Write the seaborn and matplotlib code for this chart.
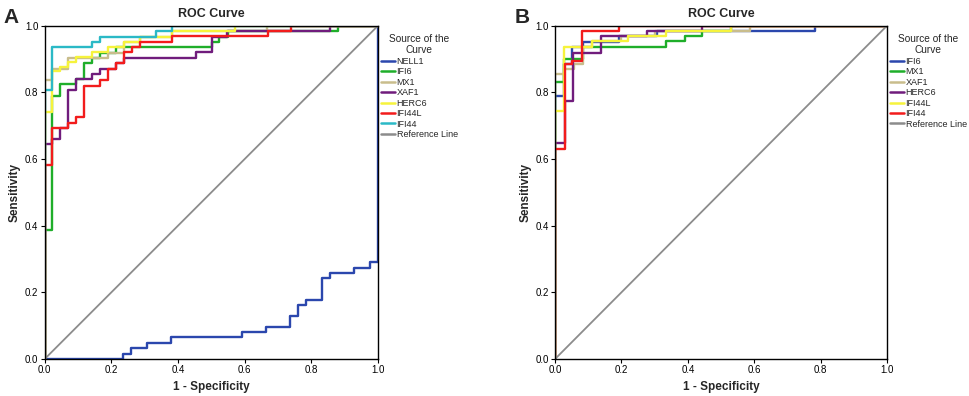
import numpy as np
import pandas as pd
import matplotlib
matplotlib.use("Agg")
import matplotlib.pyplot as plt
import seaborn as sns

sns.set_style("white")
plt.rcParams['font.family'] = ['Liberation Sans', 'DejaVu Sans']

# ROC step points: (1 - specificity where the step happens, new sensitivity)
# panel A
a_nell1_fpr = [0, 0.236, 0.26, 0.307, 0.38, 0.593, 0.665, 0.737, 0.761, 0.785, 0.833, 0.857, 0.928, 0.976, 1.0]
a_nell1_tpr = [0, 0.016, 0.032, 0.048, 0.065, 0.081, 0.097, 0.129, 0.161, 0.177, 0.242, 0.258, 0.274, 0.29, 1.0]
a_ifi6_fpr = [0, 0, 0.023, 0.046, 0.094, 0.118, 0.143, 0.167, 0.214, 0.501, 0.523, 0.549, 0.88, 1.0]
a_ifi6_tpr = [0, 0.387, 0.79, 0.824, 0.84, 0.888, 0.903, 0.919, 0.935, 0.951, 0.967, 0.984, 1.0, 1.0]
a_mx1_fpr = [0, 0, 0.023, 0.07, 0.19, 0.238, 0.286, 0.381, 0.666, 1.0]
a_mx1_tpr = [0, 0.838, 0.871, 0.903, 0.919, 0.951, 0.967, 0.984, 1.0, 1.0]
a_xaf1_fpr = [0, 0, 0.023, 0.046, 0.07, 0.094, 0.143, 0.167, 0.214, 0.238, 0.453, 0.501, 0.546, 0.856, 1.0]
a_xaf1_tpr = [0, 0.645, 0.66, 0.692, 0.807, 0.84, 0.856, 0.871, 0.888, 0.903, 0.92, 0.967, 0.984, 1.0, 1.0]
a_herc6_fpr = [0, 0, 0.023, 0.047, 0.07, 0.094, 0.143, 0.19, 0.238, 0.286, 0.381, 0.571, 1.0]
a_herc6_tpr = [0, 0.742, 0.863, 0.876, 0.891, 0.906, 0.921, 0.936, 0.951, 0.967, 0.984, 1.0, 1.0]
a_ifi44l_fpr = [0, 0, 0.023, 0.07, 0.094, 0.118, 0.167, 0.191, 0.214, 0.238, 0.261, 0.286, 0.381, 0.669, 0.738, 1.0]
a_ifi44l_tpr = [0, 0.581, 0.692, 0.707, 0.725, 0.82, 0.837, 0.87, 0.888, 0.92, 0.936, 0.951, 0.968, 0.984, 1.0, 1.0]
a_ifi44_fpr = [0, 0, 0.023, 0.143, 0.167, 0.333, 0.381, 1.0]
a_ifi44_tpr = [0, 0.806, 0.935, 0.951, 0.967, 0.984, 1.0, 1.0]

# panel B
b_ifi6_fpr = [0, 0, 0.026, 0.052, 0.084, 0.193, 0.306, 0.782, 1.0]
b_ifi6_tpr = [0, 0.79, 0.886, 0.937, 0.951, 0.968, 0.984, 1.0, 1.0]
b_mx1_fpr = [0, 0, 0.026, 0.084, 0.334, 0.39, 0.444, 0.53, 1.0]
b_mx1_tpr = [0, 0.83, 0.9, 0.937, 0.953, 0.968, 0.984, 1.0, 1.0]
b_xaf1_fpr = [0, 0, 0.026, 0.057, 0.084, 0.11, 0.2, 0.3, 0.587, 1.0]
b_xaf1_tpr = [0, 0.856, 0.87, 0.886, 0.937, 0.953, 0.968, 0.984, 1.0, 1.0]
b_herc6_fpr = [0, 0, 0.029, 0.054, 0.137, 0.276, 0.444, 1.0]
b_herc6_tpr = [0, 0.648, 0.775, 0.919, 0.968, 0.984, 1.0, 1.0]
b_ifi44l_fpr = [0, 0, 0.026, 0.11, 0.22, 0.334, 0.53, 1.0]
b_ifi44l_tpr = [0, 0.744, 0.937, 0.953, 0.968, 0.984, 1.0, 1.0]
b_ifi44_fpr = [0, 0, 0.029, 0.052, 0.082, 0.193, 1.0]
b_ifi44_tpr = [0, 0.631, 0.886, 0.893, 0.984, 1.0, 1.0]

ref_x = [0, 1]
ref_y = [0, 1]

curves_a = {
    "NELL1": (a_nell1_fpr, a_nell1_tpr),
    "IFI6": (a_ifi6_fpr, a_ifi6_tpr),
    "MX1": (a_mx1_fpr, a_mx1_tpr),
    "XAF1": (a_xaf1_fpr, a_xaf1_tpr),
    "HERC6": (a_herc6_fpr, a_herc6_tpr),
    "IFI44L": (a_ifi44l_fpr, a_ifi44l_tpr),
    "IFI44": (a_ifi44_fpr, a_ifi44_tpr),
}
curves_b = {
    "IFI6": (b_ifi6_fpr, b_ifi6_tpr),
    "MX1": (b_mx1_fpr, b_mx1_tpr),
    "XAF1": (b_xaf1_fpr, b_xaf1_tpr),
    "HERC6": (b_herc6_fpr, b_herc6_tpr),
    "IFI44L": (b_ifi44l_fpr, b_ifi44l_tpr),
    "IFI44": (b_ifi44_fpr, b_ifi44_tpr),
}

# spss default line colours, in drawing order
spss_colors = ["#2b47ad", "#1fae2a", "#c9bd8c", "#701c7c", "#f6f33c", "#f21c1c", "#2bb9c6"]
ref_color = "#8c8c8c"

fig = plt.figure(figsize=(9.69, 3.96), dpi=100)
ax_a = fig.add_axes([0.0461, 0.0934, 0.344, 0.8417])
ax_b = fig.add_axes([0.5728, 0.0934, 0.3426, 0.8417])


def draw_panel(ax, curves):
    rows = []
    for name, (fx, ty) in curves.items():
        for i, (x, y) in enumerate(zip(fx, ty)):
            rows.append({"curve": name, "step": i, "fpr": x, "tpr": y})
    df = pd.DataFrame(rows)
    names = list(curves.keys())
    pal = dict(zip(names, spss_colors[:len(names)]))
    sns.lineplot(data=df, x="fpr", y="tpr", hue="curve", hue_order=names, palette=pal,
                 units="curve", estimator=None, sort=False, drawstyle="steps-post",
                 linewidth=1.7, legend=False, ax=ax)
    ref = pd.DataFrame({"fpr": ref_x, "tpr": ref_y})
    sns.lineplot(data=ref, x="fpr", y="tpr", color=ref_color, linewidth=1.3,
                 estimator=None, sort=False, ax=ax)

    handles = [plt.Line2D([], [], color=pal[n], lw=1.8) for n in names]
    handles.append(plt.Line2D([], [], color=ref_color, lw=1.8))
    leg = ax.legend(handles, names + ["Reference Line"], title="Source of the\nCurve",
                    loc="upper left", bbox_to_anchor=(1.0, 0.985), frameon=False,
                    fontsize=6.5, title_fontsize=7.3, handlelength=1.5, handletextpad=0.2,
                    labelspacing=0.16, borderaxespad=0.15, borderpad=0.2, alignment="center")
    leg.get_title().set_multialignment("center")

    ax.set_xlim(0, 1)
    ax.set_ylim(0, 1)
    ticks = [0.0, 0.2, 0.4, 0.6, 0.8, 1.0]
    ax.set_xticks(ticks)
    ax.set_yticks(ticks)
    ax.set_xticklabels([f"{t:.1f}" for t in ticks])
    ax.set_yticklabels([f"{t:.1f}" for t in ticks])
    ax.tick_params(axis="both", direction="out", length=3, width=0.8, labelsize=7,
                   left=True, bottom=True, pad=1.5, colors="black")
    for s in ax.spines.values():
        s.set_color("black")
        s.set_linewidth(1.0)
    ax.set_title("ROC Curve", fontsize=9, fontweight="bold", pad=6)
    ax.set_xlabel("1 - Specificity", fontsize=8.5, fontweight="bold", labelpad=4)
    ax.set_ylabel("Sensitivity", fontsize=8.5, fontweight="bold", labelpad=3)


draw_panel(ax_a, curves_a)
draw_panel(ax_b, curves_b)

fig.text(0.004, 0.955, "A", fontsize=15, fontweight="bold", va="center", ha="left")
fig.text(0.531, 0.955, "B", fontsize=15, fontweight="bold", va="center", ha="left")

fig.savefig("out.png", dpi=100)
